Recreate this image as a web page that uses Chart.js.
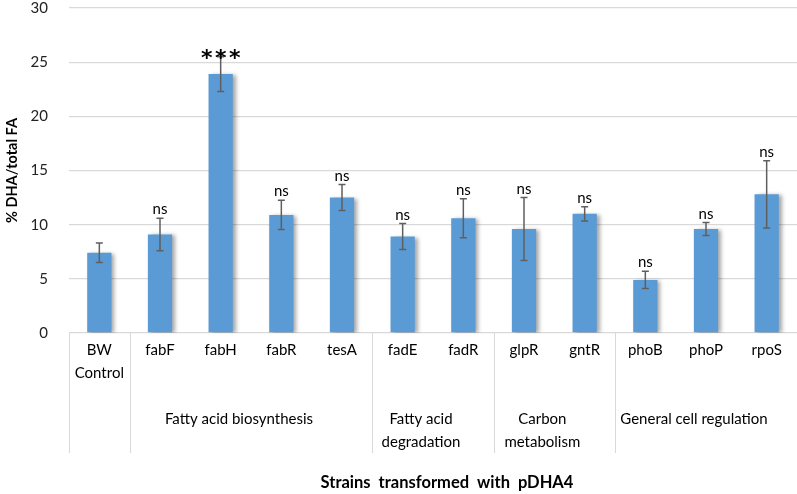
<!DOCTYPE html>
<html>
<head>
<meta charset="utf-8">
<script src="https://cdn.jsdelivr.net/npm/chart.js@4.4.0/dist/chart.umd.min.js"></script>
<style>
    html, body { margin: 0; padding: 0; background: #fff; }
    #wrap { width: 797px; height: 494px; }
</style>
</head>
<body>
<div id="wrap"><canvas id="chart"></canvas></div>
<script>
// Data
const strains = [['BW', 'Control'], 'fabF', 'fabH', 'fabR', 'tesA', 'fadE', 'fadR', 'glpR', 'gntR', 'phoB', 'phoP', 'rpoS'];
const dhaPercent = [7.4, 9.1, 23.9, 10.9, 12.5, 8.9, 10.6, 9.6, 11.0, 4.9, 9.6, 12.8];
const errors = [0.9, 1.5, 1.6, 1.35, 1.2, 1.2, 1.8, 2.9, 0.65, 0.8, 0.6, 3.1];
const significance = ['', 'ns', '***', 'ns', 'ns', 'ns', 'ns', 'ns', 'ns', 'ns', 'ns', 'ns'];
const groupNames = [[''], ['Fatty acid biosynthesis'], ['Fatty acid', 'degradation'], ['Carbon', 'metabolism'], ['General cell regulation']];
const groupSizes = [1, 4, 2, 2, 3];
const yTicks = [0, 5, 10, 15, 20, 25, 30];

const FONT = 'Lato, "Liberation Sans", sans-serif';
const LINE_GREY = '#d9d9d9';

// Soft shadow to the right of each bar, like the original
const barShadow = {
    id: 'barShadow',
    beforeDatasetsDraw(chart) {
        const ctx = chart.ctx;
        ctx.save();
        ctx.shadowColor = 'rgba(0,0,0,0.35)';
        ctx.shadowBlur = 4;
        ctx.shadowOffsetX = 3;
        ctx.shadowOffsetY = 1;
    },
    afterDatasetsDraw(chart) {
        chart.ctx.restore();
    }
};

// Error bars and significance marks
const errorBars = {
    id: 'errorBars',
    afterDatasetsDraw(chart) {
        const ctx = chart.ctx;
        const yScale = chart.scales.y;
        const meta = chart.getDatasetMeta(0);
        ctx.save();
        ctx.strokeStyle = '#5f5f5f';
        ctx.lineWidth = 1.5;
        meta.data.forEach((bar, i) => {
            const x = bar.x;
            const top = yScale.getPixelForValue(dhaPercent[i] + errors[i]);
            const bottom = yScale.getPixelForValue(dhaPercent[i] - errors[i]);
            ctx.beginPath();
            ctx.moveTo(x, top); ctx.lineTo(x, bottom);
            ctx.moveTo(x - 3.5, top); ctx.lineTo(x + 3.5, top);
            ctx.moveTo(x - 3.5, bottom); ctx.lineTo(x + 3.5, bottom);
            ctx.stroke();

            const mark = significance[i];
            if (!mark) return;
            ctx.fillStyle = '#000';
            ctx.textAlign = 'center';
            ctx.textBaseline = 'alphabetic';
            if (mark === 'ns') {
                ctx.font = '15px ' + FONT;
                ctx.fillText(mark, x, top - 4);
            } else {
                ctx.font = 'bold 22px "DejaVu Sans", sans-serif';
                for (let k = 0; k < mark.length; k++) {
                    ctx.fillText('*', x + (k - 1) * 14, top + 8);
                }
            }
        });
        ctx.restore();
    }
};

// Two-level category axis drawn under the chart area
const groupedAxis = {
    id: 'groupedAxis',
    afterDraw(chart) {
        const ctx = chart.ctx;
        const xScale = chart.scales.x;
        const area = chart.chartArea;
        const step = xScale.getPixelForValue(1) - xScale.getPixelForValue(0);
        const edge = i => xScale.getPixelForValue(i) - step / 2;
        ctx.save();

        // group separators
        ctx.strokeStyle = LINE_GREY;
        ctx.lineWidth = 1;
        let start = 0;
        const bounds = [0];
        groupSizes.forEach(n => { start += n; bounds.push(start); });
        bounds.slice(0, -1).forEach(b => {
            const x = Math.round(edge(b)) + 0.5;
            ctx.beginPath();
            ctx.moveTo(x, area.bottom);
            ctx.lineTo(x, area.bottom + 120);
            ctx.stroke();
        });

        // strain labels
        ctx.fillStyle = '#000';
        ctx.font = '15px ' + FONT;
        ctx.textAlign = 'center';
        ctx.textBaseline = 'middle';
        strains.forEach((s, i) => {
            const lines = Array.isArray(s) ? s : [s];
            const x = xScale.getPixelForValue(i);
            lines.forEach((line, j) => ctx.fillText(line, x, area.bottom + 17 + j * 23));
        });

        // group labels
        groupNames.forEach((lines, g) => {
            const x = (edge(bounds[g]) + edge(bounds[g + 1])) / 2 - 12;
            lines.forEach((line, j) => ctx.fillText(line, x, area.bottom + 86 + j * 23));
        });

        // axis title
        ctx.font = 'bold 16.5px ' + FONT;
        ctx.fillText('Strains  transformed  with  pDHA4', (area.left + area.right) / 2 + 14, area.bottom + 150);
        ctx.restore();
    }
};

const chart = new Chart(document.getElementById('chart'), {
    type: 'bar',
    data: {
        labels: strains,
        datasets: [{
            data: dhaPercent,
            backgroundColor: '#5b9bd5',
            borderWidth: 0,
            barPercentage: 0.4,
            categoryPercentage: 1
        }]
    },
    options: {
        responsive: true,
        maintainAspectRatio: false,
        animation: false,
        layout: { padding: { top: 8, right: 0, bottom: 161, left: 0 } },
        plugins: {
            legend: { display: false },
            tooltip: { enabled: false }
        },
        scales: {
            x: { display: false },
            y: {
                min: 0,
                max: 30,
                afterBuildTicks: scale => { scale.ticks = yTicks.map(v => ({ value: v })); },
                afterFit: scale => {
                    scale.width = 69;
                    scale.paddingTop = 0;
                    scale.paddingBottom = 0;
                },
                border: { display: false },
                grid: { color: LINE_GREY, lineWidth: 1.3, drawTicks: false },
                ticks: { color: '#222', padding: 21, font: { family: FONT, size: 15 } },
                title: {
                    display: true,
                    text: '% DHA/total FA',
                    color: '#000',
                    padding: { top: 4, bottom: 0 },
                    font: { family: FONT, size: 14.5, weight: 'bold' }
                }
            }
        }
    },
    plugins: [barShadow, errorBars, groupedAxis]
});
</script>
</body>
</html>
